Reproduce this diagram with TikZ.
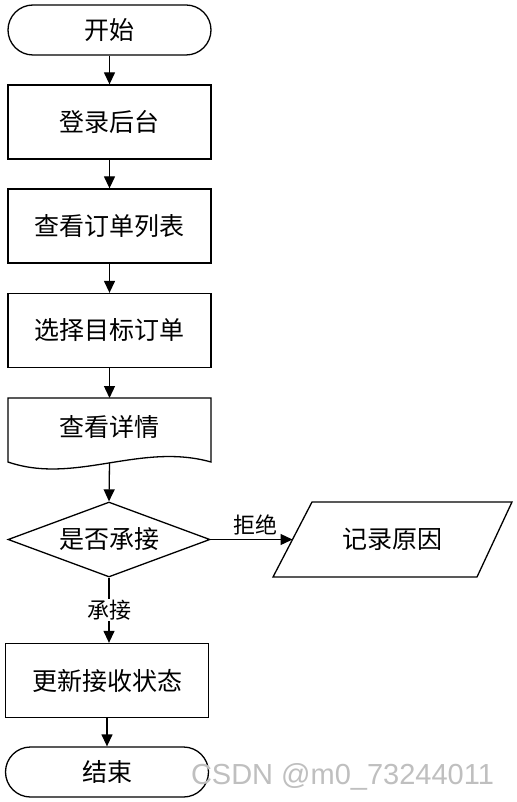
\documentclass[tikz,border=0pt]{standalone}
\usepackage{fontspec}
\setmainfont{Noto Sans CJK SC}
\newfontfamily\wmfont{Liberation Sans}
\usetikzlibrary{arrows.meta,shapes.geometric}
\begin{document}
\begin{tikzpicture}[x=1pt,y=-1pt,
  line width=1.3pt,
  txt/.style={font=\fontsize{25}{25}\selectfont, inner sep=0pt},
  procbox/.style={draw, minimum width=203pt, minimum height=74pt, txt},
  termbox/.style={draw, rounded corners=25pt, minimum width=203pt, minimum height=50pt, txt},
  decbox/.style={draw, diamond, aspect=2.69, minimum width=202pt, minimum height=75pt, txt},
  arr/.style={-{Triangle[length=12pt,width=11pt]}},
  lbl/.style={font=\fontsize{22}{22}\selectfont, inner sep=1pt}]
\useasboundingbox (0,0) rectangle (516,802);
\fill[white] (0,0) rectangle (516,802);

\node[termbox] (start) at (109.5,30) {开始};
\node[procbox] (b1) at (109.5,122) {登录后台};
\node[procbox] (b2) at (109.5,226) {查看订单列表};
\node[procbox] (b3) at (109.5,330.5) {选择目标订单};

% document shape
\node[txt] (doc) at (109.5,427) {查看详情};
\draw (8,398) -- (211,398) -- (211,462) .. controls (140,442) and (75,485) .. (8,462) -- cycle;
\coordinate (doctop) at (109.5,398);
\coordinate (docbot) at (109.5,463);

\node[decbox] (dec) at (109,539.5) {是否承接};

% parallelogram
\node[txt] (rec) at (392.5,539.5) {记录原因};
\draw (273,577) -- (312,502) -- (512,502) -- (477,577) -- cycle;
\coordinate (recw) at (292.5,539.5);

\node[procbox] (b4) at (107,680.5) {更新接收状态};
\node[termbox] (end) at (107,772) {结束};

\draw[arr] (start) -- (b1);
\draw[arr] (b1) -- (b2);
\draw[arr] (b2) -- (b3);
\draw[arr] (b3) -- (doctop);
\draw[arr] (docbot) -- (dec.north);
\draw[arr] (dec.east) -- node[lbl, pos=0.55, above=3pt] {拒绝} (recw);
\draw[arr] (dec.south) -- node[lbl, fill=white] {承接} (dec.south |- b4.north);
\draw[arr] (b4) -- (end);

\node[font=\wmfont\fontsize{29}{29}\selectfont, text=black!25, inner sep=0pt] (wm) at (342.5,777) {CSDN @m0\_73244011};
\end{tikzpicture}
\end{document}
